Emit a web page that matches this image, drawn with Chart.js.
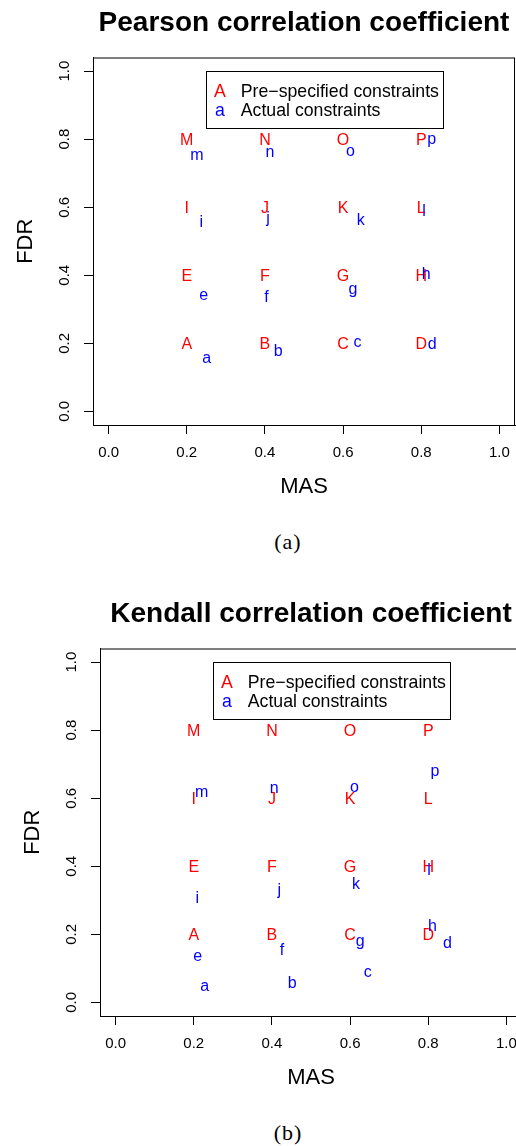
<!DOCTYPE html>
<html lang="en">
<head>
    <meta charset="UTF-8">
    <title>Pearson / Kendall constraints</title>
    <script src="https://cdn.jsdelivr.net/npm/chart.js"></script>
    <style>
        html, body { margin: 0; padding: 0; background: #fff; }
        body { width: 516px; height: 1146px; overflow: hidden; position: relative; }
        canvas { position: absolute; }
        #chartA { left: 0; top: 0; }
        #chartB { left: 7px; top: 591px; }
        .caption {
            position: absolute; left: 237px; width: 100px; text-align: center;
            font-family: 'Liberation Serif', 'Times New Roman', serif; font-size: 22px;
            letter-spacing: 1px; padding-left: 1px;
            line-height: 24px; color: #000;
        }
    </style>
</head>
<body>

<canvas id="chartA" width="516" height="510"></canvas>
<canvas id="chartB" width="516" height="510"></canvas>
<div class="caption" style="top:530px">(a)</div>
<div class="caption" style="top:1121px">(b)</div>

<script>
    // pre-specified constraints (red capitals)
    const specLabels = ['A','B','C','D','E','F','G','H','I','J','K','L','M','N','O','P'];
    const specMAS = [0.2, 0.4, 0.6, 0.8, 0.2, 0.4, 0.6, 0.8, 0.2, 0.4, 0.6, 0.8, 0.2, 0.4, 0.6, 0.8];
    const specFDR = [0.2, 0.2, 0.2, 0.2, 0.4, 0.4, 0.4, 0.4, 0.6, 0.6, 0.6, 0.6, 0.8, 0.8, 0.8, 0.8];

    // actual constraints (blue lower case)
    const actualLabels = ['a','b','c','d','e','f','g','h','i','j','k','l','m','n','o','p'];
    const pearsonMAS = [0.251, 0.434, 0.637, 0.828, 0.243, 0.404, 0.625, 0.813, 0.237, 0.408, 0.645, 0.807, 0.226, 0.413, 0.619, 0.827];
    const pearsonFDR = [0.158, 0.180, 0.206, 0.199, 0.343, 0.338, 0.363, 0.407, 0.558, 0.570, 0.566, 0.590, 0.756, 0.764, 0.766, 0.803];
    const kendallMAS = [0.228, 0.452, 0.645, 0.849, 0.210, 0.426, 0.626, 0.811, 0.209, 0.419, 0.615, 0.802, 0.220, 0.406, 0.611, 0.817];
    const kendallFDR = [0.050, 0.059, 0.091, 0.177, 0.138, 0.155, 0.184, 0.228, 0.308, 0.333, 0.351, 0.390, 0.620, 0.631, 0.634, 0.683];

    const xTicks = [0, 0.2, 0.4, 0.6, 0.8, 1.0];
    const yTicks = [0, 0.2, 0.4, 0.6, 0.8, 1.0];
    const legendItems = ['Pre\u2212specified constraints', 'Actual constraints'];

    const FONT = "'Liberation Sans', Arial, Helvetica, sans-serif";
    const RED = '#ff0000';
    const BLUE = '#0000ff';

    const toPoints = (xs, ys) => xs.map((x, i) => ({x: x, y: ys[i]}));

    // draws the plot box, the letters at their points and the legend
    const letterPlugin = {
        id: 'letters',
        afterDatasetsDraw(chart) {
            const ctx = chart.ctx;
            const area = chart.chartArea;
            ctx.save();
            ctx.strokeStyle = '#000';
            ctx.lineWidth = 1;
            ctx.strokeRect(area.left + 0.5, area.top + 0.5, area.right - area.left - 1, area.bottom - area.top);

            const size = 16;
            ctx.font = size + 'px ' + FONT;
            ctx.textAlign = 'center';
            ctx.textBaseline = 'alphabetic';
            chart.data.datasets.forEach((ds, di) => {
                const meta = chart.getDatasetMeta(di);
                ctx.fillStyle = ds.borderColor;
                meta.data.forEach((pt, i) => {
                    ctx.fillText(ds.letters[i], pt.x, pt.y + size * 0.358);
                });
            });

            // legend, top left corner at (0.25, 1.0)
            const lx = chart.scales.x.getPixelForValue(0.25);
            const ly = chart.scales.y.getPixelForValue(1.0);
            ctx.fillStyle = '#fff';
            ctx.fillRect(lx, ly, 237, 57);
            ctx.strokeRect(Math.round(lx) + 0.5, Math.round(ly) + 0.5, 237, 57);
            ctx.font = '17.7px ' + FONT;
            ctx.textAlign = 'center';
            ctx.fillStyle = RED;
            ctx.fillText(specLabels[0], lx + 13.5, ly + 26.3);
            ctx.fillStyle = BLUE;
            ctx.fillText(actualLabels[0], lx + 13.5, ly + 44.7);
            ctx.textAlign = 'left';
            ctx.fillStyle = '#000';
            ctx.fillText(legendItems[0], lx + 34.5, ly + 26.3);
            ctx.fillText(legendItems[1], lx + 34.5, ly + 44.7);
            ctx.restore();
        }
    };

    function makeChart(id, title, actMAS, actFDR) {
        const ctx = document.getElementById(id).getContext('2d');
        return new Chart(ctx, {
            type: 'scatter',
            data: {
                datasets: [
                    { data: toPoints(specMAS, specFDR), letters: specLabels, borderColor: RED, pointRadius: 0 },
                    { data: toPoints(actMAS, actFDR), letters: actualLabels, borderColor: BLUE, pointRadius: 0 }
                ]
            },
            options: {
                responsive: false,
                animation: false,
                devicePixelRatio: 1,
                events: [],
                layout: { autoPadding: false, padding: { left: 0, right: 1, top: 0, bottom: 0 } },
                plugins: {
                    legend: { display: false },
                    tooltip: { enabled: false },
                    title: {
                        display: true, text: title, fullSize: false, color: '#000',
                        font: { family: FONT, size: 28, weight: 'bold' },
                        padding: { top: 6.5, bottom: 17.4 }
                    }
                },
                scales: {
                    x: {
                        type: 'linear', position: 'bottom', min: -0.04, max: 1.04,
                        afterBuildTicks: s => { s.ticks = xTicks.map(v => ({ value: v })); },
                        afterFit: s => { s.height = 85; s.paddingLeft = 0; s.paddingRight = 0; },
                        grid: { drawOnChartArea: false, drawTicks: true, tickLength: 9, tickColor: '#000' },
                        border: { display: true, color: '#000' },
                        ticks: {
                            color: '#000', padding: 10, maxRotation: 0,
                            font: { family: FONT, size: 15 },
                            callback: v => v.toFixed(1)
                        },
                        title: {
                            display: true, text: 'MAS', color: '#000',
                            font: { family: FONT, size: 22 },
                            padding: { top: 0, bottom: 9.8 }
                        }
                    },
                    y: {
                        type: 'linear', position: 'left', min: -0.04, max: 1.04,
                        afterBuildTicks: s => { s.ticks = yTicks.map(v => ({ value: v })); },
                        afterFit: s => { s.width = 93; s.paddingTop = 0; s.paddingBottom = 0; },
                        grid: { drawOnChartArea: false, drawTicks: true, tickLength: 9, tickColor: '#000' },
                        border: { display: true, color: '#000' },
                        ticks: {
                            color: '#000', padding: 8.3, minRotation: 90, maxRotation: 90,
                            crossAlign: 'center',
                            font: { family: FONT, size: 15 },
                            callback: v => v.toFixed(1)
                        },
                        title: {
                            display: true, text: 'FDR', color: '#000',
                            font: { family: FONT, size: 22 },
                            padding: { top: 12.6, bottom: 0 }
                        }
                    }
                }
            },
            plugins: [letterPlugin]
        });
    }

    makeChart('chartA', 'Pearson correlation coefficient', pearsonMAS, pearsonFDR);
    makeChart('chartB', 'Kendall correlation coefficient', kendallMAS, kendallFDR);
</script>

</body>
</html>
